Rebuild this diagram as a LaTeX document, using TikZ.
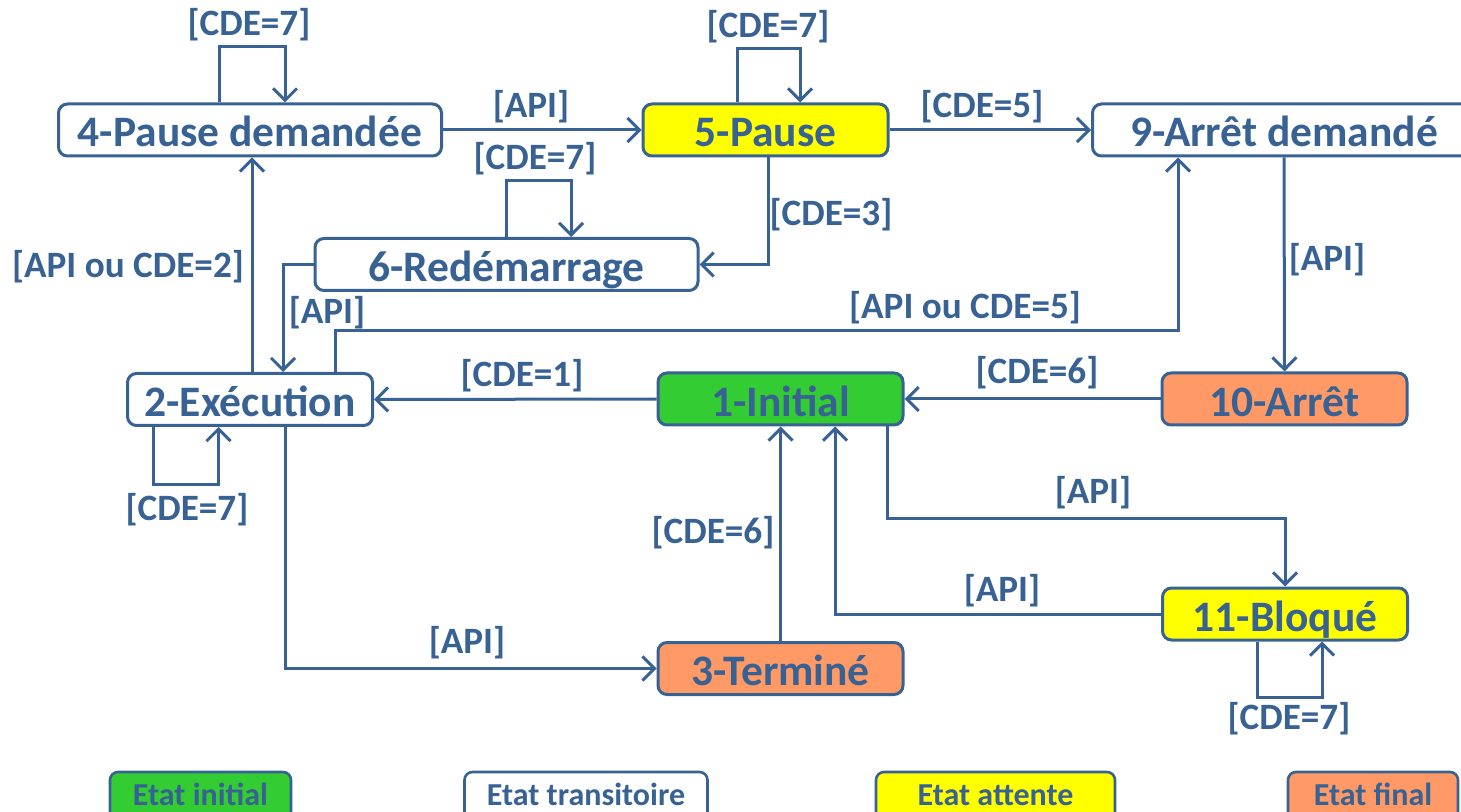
\documentclass[tikz,border=0pt]{standalone}
\usepackage{fontspec}
\setmainfont{Carlito}
\usetikzlibrary{arrows.meta,calc}
\definecolor{lineblue}{RGB}{56,98,148}
\definecolor{initgreen}{RGB}{51,204,51}
\definecolor{waityellow}{RGB}{255,255,0}
\definecolor{finalorange}{RGB}{255,153,102}

\begin{document}
\begin{tikzpicture}[x=0.5pt,y=-0.5pt,
  state/.style={draw=lineblue, line width=1.5pt, rounded corners=4.5pt,
    minimum height=26pt, inner sep=0pt, text=lineblue,
    font=\bfseries\fontsize{21.75}{24}\selectfont,
    text height=20.7pt, text depth=3.7pt},
  narrow/.style={minimum width=122.5pt},
  wide/.style={minimum width=191.5pt},
  transit/.style={fill=white},
  initial/.style={fill=initgreen},
  waiting/.style={fill=waityellow},
  final/.style={fill=finalorange},
  guard/.style={text=lineblue, inner sep=0pt,
    font=\bfseries\fontsize{18.6}{20}\selectfont},
  arr/.style={draw=lineblue, line width=1.5pt,
    -{Straight Barb[length=6pt,width=12pt,line width=1.5pt]}},
  key/.style={draw=lineblue, line width=1.3pt, rounded corners=4pt,
    minimum height=24pt, inner sep=0pt, text=lineblue,
    font=\bfseries\fontsize{16}{18}\selectfont,
    text height=12pt, text depth=2.6pt},
]
\useasboundingbox (0,0) rectangle (1461,812);
\clip (0,0) rectangle (1461,812);

% states
\node[state, wide, transit]   (n4)  at (250,130)    {4-Pause demandée};
\node[state, narrow, waiting] (n5)  at (765.5,130)  {5-Pause};
\node[state, wide, transit]   (n9)  at (1284,130)   {9-Arrêt demandé};
\node[state, wide, transit]   (n6)  at (506.5,264.5){6-Redémarrage};
\node[state, narrow, transit] (n2)  at (250,399.5)  {2-Exécution};
\node[state, narrow, initial] (n1)  at (780.5,399)  {1-Initial};
\node[state, narrow, final]   (n10) at (1284.5,399) {10-Arrêt};
\node[state, narrow, waiting] (n11) at (1285,614)   {11-Bloqué};
\node[state, narrow, final]   (n3)  at (780.5,668.5){3-Terminé};

% transitions
\draw[arr] ($(n4.north)+(-31,0)$) -- ++(0,-56) -| ($(n4.north)+(35,0)$);
\draw[arr] (n4.east) -- (n5.west);
\draw[arr] ($(n5.north)+(-28.5,0)$) -- ++(0,-54) -| ($(n5.north)+(34.5,0)$);
\draw[arr] (n5.east) -- (n9.west);
\draw[arr] ($(n5.south)+(2.5,0)$) |- (n6.east);
\draw[arr] ($(n6.north)+(-0.5,0)$) -- ++(0,-56) -| ($(n6.north)+(64.5,0)$);
\draw[arr] (n6.west) -| ($(n2.north)+(33,0)$);
\draw[arr] ($(n2.north)+(2,0)$) -- ($(n4.south)+(2,0)$);
\draw[arr] ($(n2.north)+(85,0)$) -- ++(0,-41) -| ($(n9.south)+(-106,0)$);
\draw[arr] ($(n2.south)+(-96.5,0)$) -- ++(0,57) -| ($(n2.south)+(-31.5,0)$);
\draw[arr] (n1.west) -- (n2.east);
\draw[arr] (n10.west) -- (n1.east);
\draw[arr] (n9.south) -- (n10.north);
\draw[arr] ($(n2.south)+(35,0)$) |- (n3.west);
\draw[arr] (n3.north) -- (n1.south);
\draw[arr] ($(n1.south)+(106.5,0)$) -- ++(0,92) -| (n11.north);
\draw[arr] (n11.west) -| ($(n1.south)+(54.5,0)$);
\draw[arr] ($(n11.south)+(-28,0)$) -- ++(0,56) -| ($(n11.south)+(37,0)$);

% guards
\node[guard] (g4)   at (249,25)   {[CDE=7]};
\node[guard] (g45)  at (531,107)  {[API]};
\node[guard] (g5)   at (768,27)   {[CDE=7]};
\node[guard] (g59)  at (982,107)  {[CDE=5]};
\node[guard] (g6)   at (535,159)  {[CDE=7]};
\node[guard] (g56)  at (831,215)  {[CDE=3]};
\node[guard] (g24)  at (128,267)  {[API ou CDE=2]};
\node[guard] (g62)  at (327,313)  {[API]};
\node[guard] (g29)  at (965,308)  {[API ou CDE=5]};
\node[guard] (g910) at (1327,260) {[API]};
\node[guard] (g12)  at (522,376)  {[CDE=1]};
\node[guard] (g101) at (1037,373) {[CDE=6]};
\node[guard] (g2)   at (187,510)  {[CDE=7]};
\node[guard] (g111) at (1093,493) {[API]};
\node[guard] (g31)  at (713,533)  {[CDE=6]};
\node[guard] (g111b) at (1002,591) {[API]};
\node[guard] (g23)  at (467,643)  {[API]};
\node[guard] (g11)  at (1289,719) {[CDE=7]};

% legend
\node[key, fill=initgreen,   minimum width=90.5pt]  (k1) at (200.5,796) {Etat initial};
\node[key, fill=white,       minimum width=121.5pt] (k2) at (586,796)   {Etat transitoire};
\node[key, fill=waityellow,  minimum width=119.5pt] (k3) at (995.5,796) {Etat attente};
\node[key, fill=finalorange, minimum width=85pt]    (k4) at (1373,796)  {Etat final};
\end{tikzpicture}
\end{document}
